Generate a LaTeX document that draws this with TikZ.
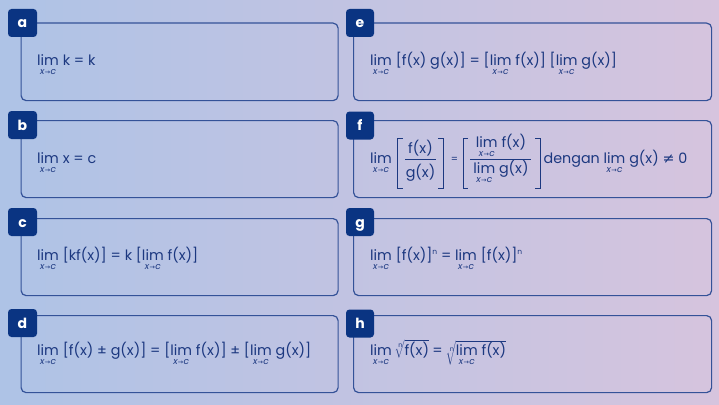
\documentclass[tikz,border=0pt]{standalone}
\usepackage{fontspec}
\setmainfont{Poppins}
\newfontfamily\djv{DejaVu Sans}
\definecolor{txt}{RGB}{28,56,128}
\definecolor{lab}{RGB}{10,52,130}
\definecolor{bord}{RGB}{52,82,152}
\definecolor{bgl}{RGB}{174,195,230}
\definecolor{bgr}{RGB}{214,196,222}
\newcommand\subx{{\fontsize{9}{9}\selectfont\itshape x\hspace{0.3pt}{\djv\fontsize{6.5}{6}\selectfont →}\hspace{0.3pt}c}}
\newcommand\limx{\leavevmode\vtop{\baselineskip=9.5pt\lineskip=0pt\lineskiplimit=-20pt\halign{\hfil##\hfil\cr lim\cr\subx\cr}}}
\newcommand\supn{\raisebox{0.75ex}{\fontsize{7.5}{8}\selectfont n}}
\newcommand\rootn{\mbox{\fontsize{6.5}{7}\selectfont n}}
\begin{document}
\begin{tikzpicture}[x=1pt,y=-1pt,
  box/.style={draw=bord, line width=1.2pt, rounded corners=5pt, inner sep=0pt, anchor=north west},
  lbl/.style={fill=lab, rounded corners=3.5pt, text=white, inner sep=0pt, minimum width=29pt, minimum height=28pt,
    text height=10pt, text depth=0pt, font=\fontsize{14}{14}\selectfont\bfseries},
  frm/.style={text=txt, inner sep=0pt, anchor=base west, font=\fontsize{14.3}{16}\selectfont},
  brk/.style={draw=txt, line width=1pt},
  bar/.style={draw=txt, line width=0.9pt}]
\fill[left color=bgl, right color=bgr] (0,0) rectangle (719,404);
\useasboundingbox (0,0) rectangle (719,404);
% boxes
\node[box, minimum width=317pt, minimum height=77.5pt] (ba) at (20.5,22.5) {};
\node[box, minimum width=317pt, minimum height=77pt] (bb) at (20.5,120) {};
\node[box, minimum width=317pt, minimum height=77pt] (bc) at (20.5,218) {};
\node[box, minimum width=317pt, minimum height=77pt] (bd) at (20.5,315) {};
\node[box, minimum width=358pt, minimum height=77.5pt] (be) at (353,22.5) {};
\node[box, minimum width=358pt, minimum height=77pt] (bf) at (353,120) {};
\node[box, minimum width=358pt, minimum height=77pt] (bg) at (353,218) {};
\node[box, minimum width=358pt, minimum height=77pt] (bh) at (353,315) {};
% labels
\node[lbl] (la) at (22.5,23) {a};
\node[lbl] (lb) at (22.5,125) {b};
\node[lbl] (lc) at (22.5,222) {c};
\node[lbl] (ld) at (22.5,323) {d};
\node[lbl, minimum width=28pt] (le) at (360,23) {e};
\node[lbl, minimum width=28pt] (lf) at (360,125.5) {f};
\node[lbl, minimum width=28pt] (lg) at (360,222) {g};
\node[lbl, minimum width=28pt] (lh) at (360,323.5) {h};
% formulas
\node[frm] (fa) at (37,65) {\limx{} k = k};
\node[frm] (fb) at (37,163) {\limx{} x = c};
\node[frm] (fc) at (37,260) {\limx{} [kf(x)] = k [\limx{} f(x)]};
\node[frm] (fd) at (37,355) {\limx{} [f(x) ± g(x)] = [\limx{} f(x)] ± [\limx{} g(x)]};
\node[frm] (fe) at (370,65) {\limx{} [f(x) g(x)] = [\limx{} f(x)] [\limx{} g(x)]};
% f
\node[frm] (f1) at (370,163) {\limx};
\draw[brk] (402.5,138.5) -- (397.5,138.5) -- (397.5,188) -- (402.5,188);
\node[frm, anchor=base] (f1n) at (420.5,153.5) {f(x)};
\draw[bar] (405,159.5) -- (436,159.5);
\node[frm, anchor=base] (f1d) at (420.5,177) {g(x)};
\draw[brk] (438,138.5) -- (443,138.5) -- (443,188) -- (438,188);
\node[frm, anchor=center, font=\fontsize{10}{10}\selectfont] (feq) at (454.5,159.5) {=};
\draw[brk] (468,138.5) -- (463,138.5) -- (463,188) -- (468,188);
\node[frm, anchor=base] (f2n) at (501,147) {\limx{} f(x)};
\draw[bar] (470,159.5) -- (531,159.5);
\node[frm, anchor=base] (f2d) at (501,173) {\limx{} g(x)};
\draw[brk] (535,138.5) -- (540,138.5) -- (540,188) -- (535,188);
\node[frm] (f3) at (543.5,163) {dengan \limx{} g(x) {\djv ≠} 0};
% g, h
\node[frm] (fg) at (370,260) {\limx{} [f(x)]\supn{} = \limx{} [f(x)]\supn};
\node[frm] (fh) at (370,355) {$\limx\,\sqrt[\rootn]{\mbox{f(x)}}\mathbin{\mbox{=}}\sqrt[\rootn]{\limx\mbox{ f(x)}}$};
\end{tikzpicture}
\end{document}
